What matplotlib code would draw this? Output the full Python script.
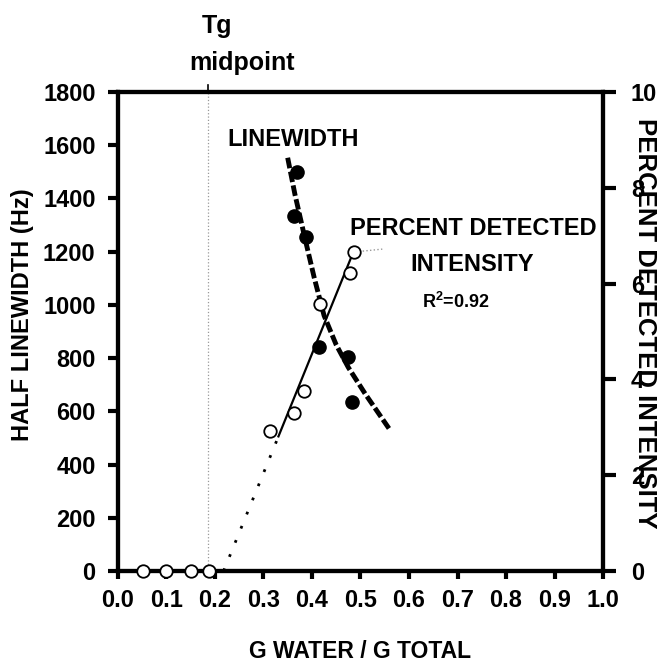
import matplotlib
matplotlib.use("Agg")
import matplotlib.pyplot as plt

plt.rcParams['font.family'] = ['Liberation Sans', 'DejaVu Sans']
plt.rcParams['font.weight'] = 'bold'
plt.rcParams['mathtext.fontset'] = 'custom'
plt.rcParams['mathtext.rm'] = 'Liberation Sans:bold'
plt.rcParams['mathtext.bf'] = 'Liberation Sans:bold'

# ---- data ----
tg_midpoint = 0.185

lw_x = [0.369, 0.364, 0.388, 0.415, 0.475, 0.483]
lw_y = [1498, 1335, 1254, 841, 803, 635]

int_x = [0.051, 0.100, 0.150, 0.188, 0.313, 0.364, 0.384, 0.417, 0.479, 0.487]
int_y = [0, 0, 0, 0, 2.92, 3.29, 3.75, 5.58, 6.23, 6.67]

lw_fit_x = [0.350, 0.365, 0.385, 0.405, 0.425, 0.450, 0.475, 0.510, 0.559]
lw_fit_y = [1553, 1415, 1255, 1100, 960, 850, 765, 665, 535]

int_fit_x = [0.331, 0.487]
int_fit_y = [2.81, 6.70]
int_extrap_x = [0.218, 0.331]
int_extrap_y = [0.0, 2.81]

x_ticks = [0.0, 0.1, 0.2, 0.3, 0.4, 0.5, 0.6, 0.7, 0.8, 0.9, 1.0]
x_ticklabels = ['0.0', '0.1', '0.2', '0.3', '0.4', '0.5', '0.6', '0.7', '0.8', '0.9', '1.0']
left_ticks = [0, 200, 400, 600, 800, 1000, 1200, 1400, 1600, 1800]
right_ticks = [0, 2, 4, 6, 8, 10]

# ---- figure ----
fig = plt.figure(figsize=(6.62, 6.62), dpi=100)
ax = fig.add_axes([0.178, 0.1375, 0.733, 0.7235])
ax.set_xlim(0, 1)
ax.set_ylim(0, 1800)
ax2 = ax.twinx()
ax2.set_ylim(0, 10)

for a in (ax, ax2):
    for s in a.spines.values():
        s.set_linewidth(3)
        s.set_color('black')

ax.set_xticks(x_ticks)
ax.set_xticklabels(x_ticklabels)
ax.set_yticks(left_ticks)
ax2.set_yticks(right_ticks)

tick_font = 17
ax.tick_params(axis='x', direction='out', length=6, width=3, pad=7, labelsize=tick_font)
ax.tick_params(axis='y', direction='out', length=7, width=3, pad=9, labelsize=tick_font)
ax2.tick_params(axis='y', direction='out', length=9, width=3, pad=11, labelsize=tick_font)
for lab in ax.get_xticklabels() + ax.get_yticklabels() + ax2.get_yticklabels():
    lab.set_fontweight('bold')

ax.set_xlabel('G WATER / G TOTAL', fontsize=16.5, fontweight='bold', labelpad=20)
fig.text(0.034, 0.524, 'HALF LINEWIDTH (Hz)', rotation=90, fontsize=17,
         fontweight='bold', ha='center', va='center')
fig.text(0.975, 0.512, 'PERCENT DETECTED INTENSITY', rotation=-90, fontsize=18.5,
         fontweight='bold', ha='center', va='center')

# Tg midpoint line
ax.axvline(tg_midpoint, color='#999999', ls=':', lw=0.9, zorder=1)
ax.plot([tg_midpoint, tg_midpoint], [1800, 1828], color='black', lw=1.2, clip_on=False)
fig.text(0.328, 0.960, 'Tg', fontsize=18, fontweight='bold', ha='center', va='center')
fig.text(0.366, 0.905, 'midpoint', fontsize=18, fontweight='bold', ha='center', va='center')

# Linewidth fit curve (thick dashed) and points
ax.plot(lw_fit_x, lw_fit_y, color='black', lw=3.5, dashes=(2.2, 0.7), zorder=3)
ax.plot(lw_x, lw_y, 'o', color='black', ms=9.5, zorder=4)

# Intensity fit line, extrapolation, points
ax2.plot(int_fit_x, int_fit_y, color='black', lw=1.6, zorder=3)
ax2.plot(int_extrap_x, int_extrap_y, color='black', lw=2, ls=(0, (1, 4.5)), zorder=3)
ax2.plot(int_x, int_y, 'o', mfc='white', mec='black', mew=1.3, ms=9, zorder=5, clip_on=False)
ax2.plot([0.497, 0.545], [6.67, 6.72], color='#999999', ls=':', lw=1.0)

# annotations
ax.text(0.226, 1620, 'LINEWIDTH', fontsize=17, fontweight='bold', ha='left', va='center')
ax2.text(0.478, 7.16, 'PERCENT DETECTED', fontsize=17, fontweight='bold', ha='left', va='center')
ax2.text(0.603, 6.39, 'INTENSITY', fontsize=17, fontweight='bold', ha='left', va='center')
ax2.text(0.627, 5.62, r'R$^{\mathbf{2}}$=0.92', fontsize=13, fontweight='bold', ha='left', va='center')

fig.savefig('out.png', dpi=100)
